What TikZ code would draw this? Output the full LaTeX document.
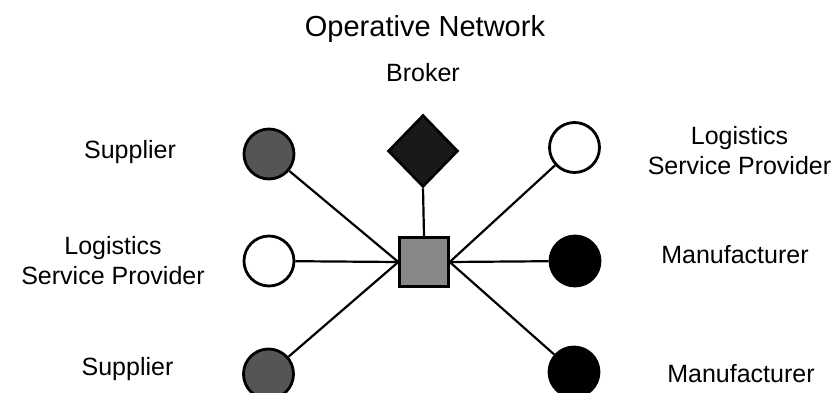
\documentclass[tikz,border=0pt]{standalone}
\usepackage{fontspec}
\setmainfont{Liberation Sans}
\usetikzlibrary{shapes.geometric}
\definecolor{supfill}{RGB}{85,85,85}
\definecolor{hubfill}{RGB}{135,135,135}
\definecolor{brokfill}{RGB}{25,25,25}
\begin{document}
\begin{tikzpicture}[x=1pt,y=-1pt,
  actor/.style={circle,draw=black,line width=2.8pt,minimum size=50pt,inner sep=0pt},
  supplier/.style={actor,fill=supfill},
  lsp/.style={actor,fill=white},
  manuf/.style={actor,fill=black},
  hub/.style={rectangle,draw=black,line width=2.4pt,fill=hubfill,minimum size=49pt,inner sep=0pt},
  broker/.style={diamond,draw=black,line width=2.6pt,fill=brokfill,minimum width=70pt,minimum height=72pt,inner sep=0pt},
  link/.style={line width=2.2pt,black},
  lbl/.style={font=\fontsize{25}{30}\selectfont,anchor=base,align=center,inner sep=0pt},
  ttl/.style={font=\fontsize{29}{34}\selectfont,anchor=base,inner sep=0pt}]
\useasboundingbox (0,0) rectangle (838,393);
\fill[white] (0,0) rectangle (838,393);

\node[ttl] (title) at (425,37) {Operative Network};
\node[lbl] (tbroker) at (423,82) {Broker};

\node[broker] (broker) at (423,151) {};
\node[hub] (hub) at (424,262) {};

\node[supplier] (s1) at (269,154) {};
\node[lsp] (l1) at (269,261) {};
\node[supplier] (s2) at (268.5,374) {};
\node[lsp] (l2) at (574.5,147.5) {};
\node[manuf] (m1) at (575,261) {};
\node[manuf] (m2) at (574,372) {};

\draw[link] (broker.south) -- (hub.north);
\draw[link] (s1) -- (hub.west);
\draw[link] (l1) -- (hub.west);
\draw[link] (s2) -- (hub.west);
\draw[link] (l2) -- (hub.east);
\draw[link] (m1) -- (hub.east);
\draw[link] (m2) -- (hub.east);

\node[lbl] (ts1) at (130,159) {Supplier};
\node[lbl,anchor=south] (tl1) at (113,285) {Logistics\\Service Provider};
\node[lbl] (ts2) at (127.5,375) {Supplier};
\node[lbl,anchor=south] (tl2) at (739.5,175) {Logistics\\Service Provider};
\node[lbl] (tm1) at (735,263) {Manufacturer};
\node[lbl] (tm2) at (741,382) {Manufacturer};
\end{tikzpicture}
\end{document}
